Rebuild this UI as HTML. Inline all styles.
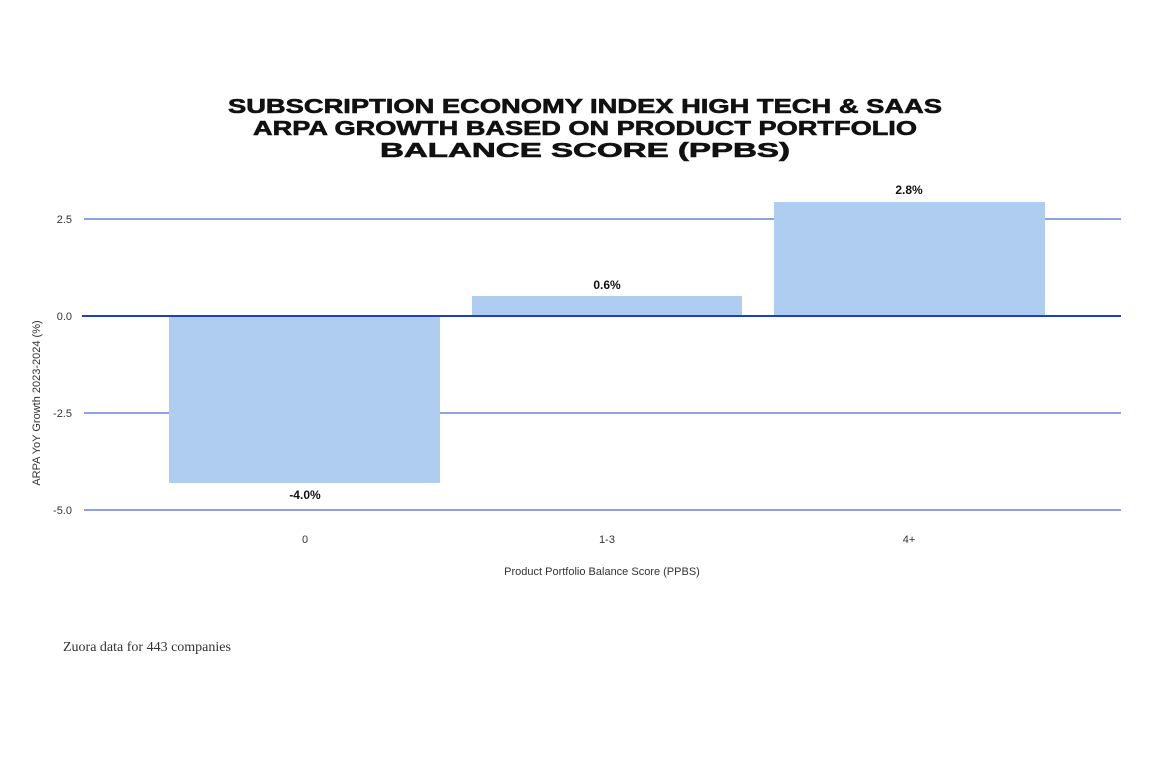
<!DOCTYPE html>
<html><head><style>body{margin:0;background:#fff}</style></head><body>
<svg width="1153" height="755" xmlns="http://www.w3.org/2000/svg" font-family="Liberation Sans, sans-serif">
<rect width="1153" height="755" fill="#fff"/>
<g font-weight="bold" font-size="20" fill="#111" stroke="#111" stroke-width="0.6" text-anchor="middle">
<text x="585" y="113" textLength="714" lengthAdjust="spacingAndGlyphs">SUBSCRIPTION ECONOMY INDEX HIGH TECH &amp; SAAS</text>
<text x="585" y="135" textLength="664" lengthAdjust="spacingAndGlyphs">ARPA GROWTH BASED ON PRODUCT PORTFOLIO</text>
<text x="585" y="157" textLength="410" lengthAdjust="spacingAndGlyphs">BALANCE SCORE (PPBS)</text>
</g>
<g stroke="#6a82dc" stroke-width="1.5">
<line x1="84" y1="219" x2="1121" y2="219"/>
<line x1="84" y1="413" x2="1121" y2="413"/>
<line x1="84" y1="510" x2="1121" y2="510"/>
</g>
<rect x="169" y="316" width="271" height="167" fill="#afcdf0"/>
<rect x="472" y="296" width="270" height="20" fill="#afcdf0"/>
<rect x="774" y="202" width="271" height="114" fill="#afcdf0"/>
<line x1="82" y1="316" x2="1121" y2="316" stroke="#1f3fbf" stroke-width="2"/>
<g font-size="11" fill="#333" text-anchor="end">
<text x="72" y="223">2.5</text><text x="72" y="320">0.0</text><text x="72" y="417">-2.5</text><text x="72" y="514">-5.0</text>
</g>
<text transform="translate(40,403) rotate(-90)" font-size="11" fill="#333" text-anchor="middle">ARPA YoY Growth 2023-2024 (%)</text>
<g font-size="12" font-weight="bold" fill="#111" text-anchor="middle">
<text x="305" y="499">-4.0%</text><text x="607" y="289">0.6%</text><text x="909" y="194">2.8%</text>
</g>
<g font-size="11" fill="#333" text-anchor="middle">
<text x="305" y="543">0</text><text x="607" y="543">1-3</text><text x="909" y="543">4+</text>
<text x="602" y="575">Product Portfolio Balance Score (PPBS)</text>
</g>
<text x="63" y="651" font-family="Liberation Serif, serif" font-size="14" fill="#333">Zuora data for 443 companies</text>
</svg>
</body></html>
